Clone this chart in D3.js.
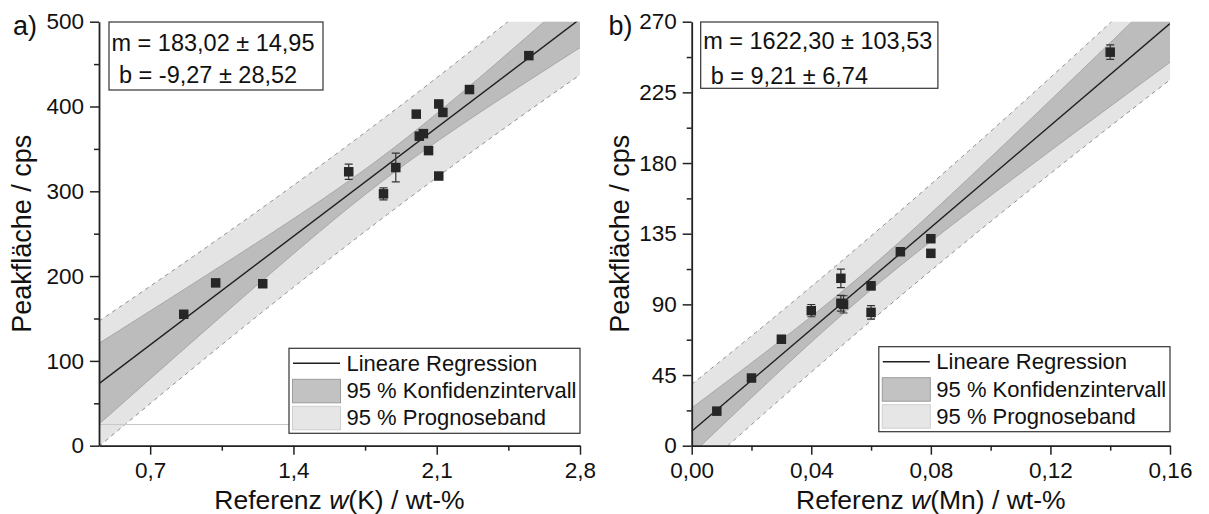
<!DOCTYPE html>
<html>
<head>
<meta charset="utf-8">
<script src="https://cdn.jsdelivr.net/npm/d3@7"></script>
<style>
  html, body { margin: 0; padding: 0; background: #fff; }
  svg { display: block; font-family: "Liberation Sans", Arial, sans-serif; }
</style>
</head>
<body>
<svg id="chart" width="1209" height="514"></svg>
<script>
// ---- Panel a: potassium ----
const kReference = [0.864, 1.02, 1.25, 1.67, 1.84, 1.90, 2.00, 2.015, 2.035, 2.06, 2.11, 2.13, 2.11, 2.26, 2.55];
const kPeakArea  = [155, 192, 191, 323, 297, 328, 391, 365, 368, 348, 403, 393, 318, 420, 460];
const kPeakError = [2, 3, 2, 9, 7, 17, 3, 3, 3, 3, 3, 3, 3, 3, 3];
const kSlope     = [183.02, 14.95];   // value, standard error
const kIntercept = [-9.27, 28.52];
const kTCrit     = 2.1604;            // t(0.975, n-2 = 13)
const kXTicks    = [0.7, 1.4, 2.1, 2.8];
const kXMinor    = [1.05, 1.75, 2.45];
const kYTicks    = [0, 100, 200, 300, 400, 500];
const kYMinor    = [50, 150, 250, 350, 450];
const kGuideLevel = [25];

// ---- Panel b: manganese ----
const mnReference = [0.0084, 0.020, 0.030, 0.040, 0.0499, 0.0499, 0.0508, 0.060, 0.060, 0.0698, 0.080, 0.080, 0.140];
const mnPeakArea  = [22.0, 43.1, 67.8, 86.0, 106.6, 90.7, 90.0, 101.8, 84.9, 123.5, 131.8, 122.5, 250.6];
const mnPeakError = [2, 2, 2, 3.9, 5.9, 5, 5.5, 2.5, 4.3, 2, 2, 2, 4.6];
const mnSlope     = [1622.30, 103.53];
const mnIntercept = [9.21, 6.74];
const mnTCrit     = 2.2010;           // t(0.975, n-2 = 11)
const mnXTicks    = [0, 0.04, 0.08, 0.12, 0.16];
const mnXMinor    = [0.02, 0.06, 0.10, 0.14];
const mnYTicks    = [0, 45, 90, 135, 180, 225, 270];
const mnYMinor    = [22.5, 67.5, 112.5, 157.5, 202.5, 247.5];

const legendLabels = ["Lineare Regression", "95 % Konfidenzintervall", "95 % Prognoseband"];

const de = d3.formatLocale({ decimal: ",", thousands: ".", grouping: [3], currency: ["", " €"], minus: "-" });
const f2 = de.format(".2f");

const svg = d3.select("#chart");

function drawPanel(cfg) {
  const g = svg.append("g");
  const x = d3.scaleLinear().domain(cfg.xDomain).range([cfg.left, cfg.right]);
  const y = d3.scaleLinear().domain(cfg.yDomain).range([cfg.bottom, cfg.top]);

  // regression statistics for the bands
  const n = cfg.xs.length;
  const xbar = d3.mean(cfg.xs);
  const sxx = d3.sum(cfg.xs, v => (v - xbar) ** 2);
  const s = cfg.slope[1] * Math.sqrt(sxx);
  const fit = v => cfg.slope[0] * v + cfg.intercept[0];
  const ci = v => cfg.t * s * Math.sqrt(1 / n + (v - xbar) ** 2 / sxx);
  const pi = v => cfg.t * s * Math.sqrt(1 + 1 / n + (v - xbar) ** 2 / sxx);

  const clipId = "clip-" + cfg.id;
  svg.append("clipPath").attr("id", clipId)
    .append("rect")
    .attr("x", cfg.left).attr("y", cfg.top)
    .attr("width", cfg.right - cfg.left).attr("height", cfg.bottom - cfg.top);

  const plot = g.append("g").attr("clip-path", `url(#${clipId})`);
  const grid = d3.range(241).map(i => cfg.xDomain[0] + i * (cfg.xDomain[1] - cfg.xDomain[0]) / 240);

  plot.append("path").datum(grid)
    .attr("d", d3.area().x(d => x(d)).y0(d => y(fit(d) - pi(d))).y1(d => y(fit(d) + pi(d))))
    .attr("fill", "#e4e4e4");
  plot.append("path").datum(grid)
    .attr("d", d3.area().x(d => x(d)).y0(d => y(fit(d) - ci(d))).y1(d => y(fit(d) + ci(d))))
    .attr("fill", "#bcbcbc");

  [1, -1].forEach(sign => {
    plot.append("path").datum(grid)
      .attr("d", d3.line().x(d => x(d)).y(d => y(fit(d) + sign * ci(d))))
      .attr("fill", "none").attr("stroke", "#a2a2a2").attr("stroke-width", 0.9);
    plot.append("path").datum(grid)
      .attr("d", d3.line().x(d => x(d)).y(d => y(fit(d) + sign * pi(d))))
      .attr("fill", "none").attr("stroke", "#8c8c8c").attr("stroke-width", 1)
      .attr("stroke-dasharray", "4,4");
  });

  if (cfg.guide) {
    plot.selectAll("line.guide").data(cfg.guide).join("line")
      .attr("x1", cfg.left).attr("x2", cfg.right)
      .attr("y1", d => y(d)).attr("y2", d => y(d))
      .attr("stroke", "#c8c8c8").attr("stroke-width", 1);
  }

  plot.append("path").datum(cfg.xDomain)
    .attr("d", d3.line().x(d => x(d)).y(d => y(fit(d))))
    .attr("stroke", "#1e1e1e").attr("stroke-width", 1.4).attr("fill", "none");

  const pts = cfg.xs.map((v, i) => ({ x: v, y: cfg.ys[i], e: cfg.es[i] }));
  const eb = plot.append("g").attr("stroke", "#333").attr("stroke-width", 1.2);
  pts.forEach(p => {
    const px = x(p.x), y1 = y(p.y + p.e), y0 = y(p.y - p.e);
    eb.append("line").attr("x1", px).attr("x2", px).attr("y1", y1).attr("y2", y0);
    eb.append("line").attr("x1", px - 4).attr("x2", px + 4).attr("y1", y1).attr("y2", y1);
    eb.append("line").attr("x1", px - 4).attr("x2", px + 4).attr("y1", y0).attr("y2", y0);
  });
  plot.selectAll("rect.pt").data(pts).join("rect")
    .attr("x", d => x(d.x) - 4.75).attr("y", d => y(d.y) - 4.75)
    .attr("width", 9.5).attr("height", 9.5)
    .attr("fill", "#262626");

  // axes
  const styleAxis = sel => {
    sel.select(".domain").attr("stroke", "#222").attr("stroke-width", 1.8);
    sel.selectAll(".tick line").attr("stroke", "#222").attr("stroke-width", 1.5);
    sel.selectAll(".tick text").attr("fill", "#111").style("font-size", "22.5px")
      .style("font-family", "'Liberation Sans', Arial, sans-serif");
  };
  g.append("g").attr("transform", `translate(0,${cfg.bottom})`)
    .call(d3.axisBottom(x).tickValues(cfg.xMinor).tickSize(5).tickFormat("").tickSizeOuter(0))
    .call(sel => { sel.select(".domain").remove(); sel.selectAll(".tick line").attr("stroke", "#222").attr("stroke-width", 1.5); });
  g.append("g").attr("transform", `translate(${cfg.left},0)`)
    .call(d3.axisLeft(y).tickValues(cfg.yMinor).tickSize(5).tickFormat("").tickSizeOuter(0))
    .call(sel => { sel.select(".domain").remove(); sel.selectAll(".tick line").attr("stroke", "#222").attr("stroke-width", 1.5); });
  g.append("g").attr("transform", `translate(0,${cfg.bottom})`)
    .call(d3.axisBottom(x).tickValues(cfg.xTicks).tickSize(9).tickPadding(7).tickSizeOuter(0).tickFormat(cfg.xFormat))
    .call(styleAxis);
  g.append("g").attr("transform", `translate(${cfg.left},0)`)
    .call(d3.axisLeft(y).tickValues(cfg.yTicks).tickSize(9).tickPadding(6).tickSizeOuter(0).tickFormat(d3.format("d")))
    .call(styleAxis);

  // axis titles
  g.append("text")
    .attr("transform", `translate(${cfg.yTitleX},${(cfg.top + cfg.bottom) / 2}) rotate(-90)`)
    .attr("text-anchor", "middle").style("font-size", "27px").attr("fill", "#111")
    .text("Peakfläche / cps");
  const xt = g.append("text")
    .attr("x", (cfg.left + cfg.right) / 2).attr("y", 508.5)
    .attr("text-anchor", "middle").style("font-size", "26.5px").attr("fill", "#111");
  xt.append("tspan").text("Referenz ");
  xt.append("tspan").style("font-style", "italic").text("w");
  xt.append("tspan").text(`(${cfg.element}) / wt-%`);

  // panel letter
  g.append("text").attr("x", cfg.letterX).attr("y", 35)
    .style("font-size", "27px").attr("fill", "#111").text(cfg.letter);

  // fit parameter box
  const b = cfg.box;
  g.append("rect").attr("x", b.x).attr("y", b.y).attr("width", b.w).attr("height", b.h)
    .attr("fill", "#fff").attr("stroke", "#333").attr("stroke-width", 1.2);
  g.append("text").attr("x", b.x + 2.5).attr("y", b.l1).style("font-size", "23.5px").attr("fill", "#111")
    .text(`m = ${f2(cfg.slope[0])} ± ${f2(cfg.slope[1])}`);
  g.append("text").attr("x", b.x + 10).attr("y", b.l2).style("font-size", "23.5px").attr("fill", "#111")
    .text(`b = ${f2(cfg.intercept[0])} ± ${f2(cfg.intercept[1])}`);

  // legend
  const L = cfg.legend;
  const lg = g.append("g");
  lg.append("rect").attr("x", L.x).attr("y", L.y).attr("width", cfg.right - L.x).attr("height", 85)
    .attr("fill", "#fff").attr("stroke", "#333").attr("stroke-width", 1.2);
  lg.append("line").attr("x1", L.x + 4).attr("x2", L.x + 51).attr("y1", L.y + 15).attr("y2", L.y + 15)
    .attr("stroke", "#1e1e1e").attr("stroke-width", 1.6);
  lg.append("rect").attr("x", L.x + 3.5).attr("y", L.y + 31).attr("width", 48).attr("height", 23.5)
    .attr("fill", "#c2c2c2").attr("stroke", "#9c9c9c").attr("stroke-width", 1);
  lg.append("rect").attr("x", L.x + 3.5).attr("y", L.y + 58).attr("width", 48).attr("height", 23.5)
    .attr("fill", "#e6e6e6").attr("stroke", "#cfcfcf").attr("stroke-width", 1);
  [L.y + 22.7, L.y + 50, L.y + 77].forEach((yy, i) => {
    lg.append("text").attr("x", L.x + 57.5).attr("y", yy).style("font-size", "22px").attr("fill", "#111")
      .text(legendLabels[i]);
  });
}

drawPanel({
  id: "k", letter: "a)", letterX: 13, element: "K",
  xs: kReference, ys: kPeakArea, es: kPeakError,
  slope: kSlope, intercept: kIntercept, t: kTCrit,
  xDomain: [0.45, 2.8], yDomain: [0, 500],
  xTicks: kXTicks, xMinor: kXMinor, yTicks: kYTicks, yMinor: kYMinor,
  xFormat: de.format(".1f"), guide: kGuideLevel,
  left: 99, right: 580, top: 21.7, bottom: 445.7, yTitleX: 31,
  box: { x: 109, y: 22, w: 214, h: 68, l1: 50.5, l2: 82.5 },
  legend: { x: 289, y: 348.3 }
});

drawPanel({
  id: "mn", letter: "b)", letterX: 608.5, element: "Mn",
  xs: mnReference, ys: mnPeakArea, es: mnPeakError,
  slope: mnSlope, intercept: mnIntercept, t: mnTCrit,
  xDomain: [0, 0.16], yDomain: [0, 270],
  xTicks: mnXTicks, xMinor: mnXMinor, yTicks: mnYTicks, yMinor: mnYMinor,
  xFormat: de.format(".2f"), guide: null,
  left: 691.7, right: 1170, top: 21.7, bottom: 445.7, yTitleX: 628.5,
  box: { x: 700.7, y: 22, w: 237.2, h: 66.3, l1: 48.5, l2: 84 },
  legend: { x: 878.8, y: 346.7 }
});
</script>
</body>
</html>
